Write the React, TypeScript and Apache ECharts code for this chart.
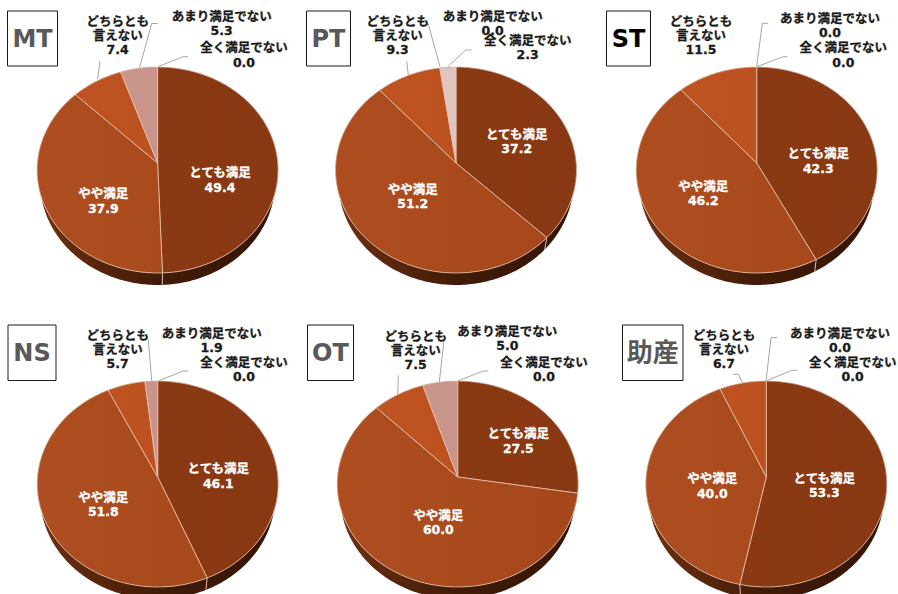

import React, { useEffect, useRef } from "react";
import * as echarts from "echarts";

const categories = ["とても満足", "やや満足", "どちらとも\n言えない", "あまり満足でない", "全く満足でない"];
const panelNames = ["MT", "PT", "ST", "NS", "OT", "助産"];
const mtValues = [49.4, 37.9, 7.4, 5.3, 0.0];
const ptValues = [37.2, 51.2, 9.3, 0.0, 2.3];
const stValues = [42.3, 46.2, 11.5, 0.0, 0.0];
const nsValues = [46.1, 51.8, 5.7, 1.9, 0.0];
const otValues = [27.5, 60.0, 7.5, 5.0, 0.0];
const josanValues = [53.3, 40.0, 6.7, 0.0, 0.0];
const panelValues = [mtValues, ptValues, stValues, nsValues, otValues, josanValues];

// Layout only (pixels); no data values here.
const centers = [[157.6, 163], [456, 163], [756.7, 163], [157.7, 477], [457.7, 477], [766.3, 477]];
const boxes = [[7.5, 11, 50, 55], [306.5, 11, 44, 55], [606.5, 11, 44, 55], [8, 325, 48, 55.5], [307.5, 325, 46, 55.5], [622.5, 325, 60.5, 55.5]];
const titleColors = ["#595959", "#595959", "#000000", "#595959", "#595959", "#595959"];
const labelPositions = [
  [[220, 180], [103.3, 201], [117.7, 35], [221.7, 23.7], [244, 55]],
  [[516.7, 141.7], [412.7, 196.7], [397.7, 35], [492.7, 23.7], [527.7, 47.5]],
  [[818.3, 161], [703.3, 193.7], [701, 35], [830, 25.3], [843.3, 55]],
  [[218.3, 476.2], [103.3, 504.5], [117.7, 349.8], [211.7, 340.3], [244, 369.5]],
  [[518.3, 441.2], [438.3, 522.7], [415.7, 350.7], [507.3, 338.3], [544, 369.5]],
  [[824.3, 485.7], [712.3, 486], [724, 349.8], [840, 340.3], [852.7, 369.5]],
];
const leaders = [
  [[[97.7, 79], [100, 60.7]], [[139.5, 68], [151.7, 23.5], [158, 23.5]], [[158, 66.7], [183, 56.7], [188, 56.7]]],
  [[[408.3, 75], [406.7, 61]], [[440, 66.7], [428.3, 24], [426, 24]], [[447.7, 66.7], [465.7, 50], [471.7, 50]]],
  [[[756.7, 66.7], [762.3, 23.3], [768, 23.3]], [[756.7, 66.7], [783.3, 56.7], [787.3, 56.7]]],
  [[[151.7, 381], [148.3, 339.7]], [[158.3, 381], [183.3, 371], [188.3, 371]]],
  [[[397.7, 394.7], [398.3, 375.3]], [[439.3, 382], [444, 340.3]], [[457.7, 381], [483.3, 371], [488.3, 371]]],
  [[[742.7, 383], [738.3, 374.3], [732.7, 374.3]], [[766, 381], [771, 337.7], [777.3, 337.7]], [[766, 381], [791.7, 370.3], [797.3, 370.3]]],
];

const faceStops = [["#8c3b14", "#883812"], ["#ae4e20", "#a5471b"], ["#c05522", "#b84e1e"], ["#cc9a90", "#c58d84"], ["#e2c9c5", "#dcc0bb"]];

const R = 120.2, K = 102.5, P = 0.068, DEPTH = 12, SHRINK = 0.975;
const FONT = '"DejaVu Sans", "Noto Sans CJK JP", sans-serif';

function project(cx: number, cy: number, deg: number) {
  const t = (deg * Math.PI) / 180;
  const u = Math.sin(t), v = -Math.cos(t);
  const d = 1 - P * v;
  return [cx + (R * u) / d, cy + (K * v) / d];
}

function grad(cx: number, stops: string[]) {
  return new echarts.graphic.LinearGradient(cx - R, 0, cx + R, 0, [
    { offset: 0, color: stops[0] }, { offset: 1, color: stops[1] },
  ], true);
}

function rimGrad(cx: number) {
  return new echarts.graphic.LinearGradient(cx - R, 0, cx + R, 0, [
    { offset: 0, color: "#6e3010" }, { offset: 0.5, color: "#421b08" }, { offset: 1, color: "#351405" },
  ], true);
}

function makeSeries(panel: number) {
  const values = panelValues[panel];
  const total = values.reduce((a, b) => a + b, 0);
  let cum = 0;
  const data = values.map((v, i) => {
    const row = [i, v, cum, total];
    cum += v;
    return row;
  });
  const [cx, cy] = centers[panel];
  return {
    type: "custom",
    coordinateSystem: "none",
    silent: true,
    clip: false,
    data,
    renderItem: (_p: any, api: any) => {
      const i = api.value(0), v = api.value(1), start = api.value(2), tot = api.value(3);
      const a0 = (start / tot) * 360, a1 = ((start + v) / tot) * 360;
      const children: any[] = [];
      if (v > 0) {
        const arc: number[][] = [];
        const n = Math.max(2, Math.ceil(a1 - a0));
        for (let k = 0; k <= n; k++) arc.push(project(cx, cy, a0 + ((a1 - a0) * k) / n));
        const lower = arc.map(([x, y]) => [cx + (x - cx) * SHRINK, y + DEPTH]);
        children.push({
          type: "polygon", z2: 1,
          shape: { points: [...arc, ...lower.slice().reverse()] },
          style: { fill: rimGrad(cx), stroke: null },
        });
        const [ex, ey] = arc[0];
        children.push({
          type: "line", z2: 2,
          shape: { x1: ex, y1: ey, x2: cx + (ex - cx) * SHRINK, y2: ey + DEPTH },
          style: { stroke: "#d9b9a6", lineWidth: 1 },
        });
        children.push({
          type: "polygon", z2: 3,
          shape: { points: [[cx, cy], ...arc] },
          style: { fill: grad(cx, faceStops[i]), stroke: "#e3c3b0", lineWidth: 0.8, lineJoin: "round" },
        });
      }
      const [lx, ly] = labelPositions[panel][i];
      const color = i < 2 ? "#ffffff" : "#1a1a1a";
      children.push({
        type: "text", z2: 10, x: lx, y: ly,
        style: {
          text: categories[i] + "\n" + v.toFixed(1),
          fill: color,
          stroke: color,
          lineWidth: 0.3,
          font: `bold 12.5px ${FONT}`,
          lineHeight: i === 2 ? 14 : 14.5,
          align: "center", verticalAlign: "middle",
        },
      });
      return { type: "group", children };
    },
  };
}

export default function App() {
  const ref = useRef<HTMLDivElement>(null);
  useEffect(() => {
    document.body.style.margin = "0";
    const chart = echarts.init(ref.current!, null, { renderer: "svg" });
    const graphic: any[] = [];
    panelNames.forEach((name, p) => {
      const [x, y, w, h] = boxes[p];
      graphic.push({
        type: "rect", z: 5, shape: { x, y, width: w, height: h },
        style: { fill: "#ffffff", stroke: "#1a1a1a", lineWidth: 1 },
      });
      graphic.push({
        type: "text", z: 6, x: x + w / 2, y: y + h / 2,
        style: {
          text: name, fill: titleColors[p],
          font: `bold ${name === "助産" ? 26 : 24}px ${FONT}`,
          align: "center", verticalAlign: "middle",
        },
      });
      leaders[p].forEach((pts) => {
        graphic.push({
          type: "polyline", z: 1, shape: { points: pts },
          style: { stroke: "#a6a6a6", lineWidth: 1, fill: null },
        });
      });
    });
    chart.setOption({
      animation: false,
      backgroundColor: "#ffffff",
      graphic,
      series: panelNames.map((_, p) => makeSeries(p)),
    });
    return () => chart.dispose();
  }, []);
  return <div ref={ref} style={{ width: 898, height: 594 }} />;
}
